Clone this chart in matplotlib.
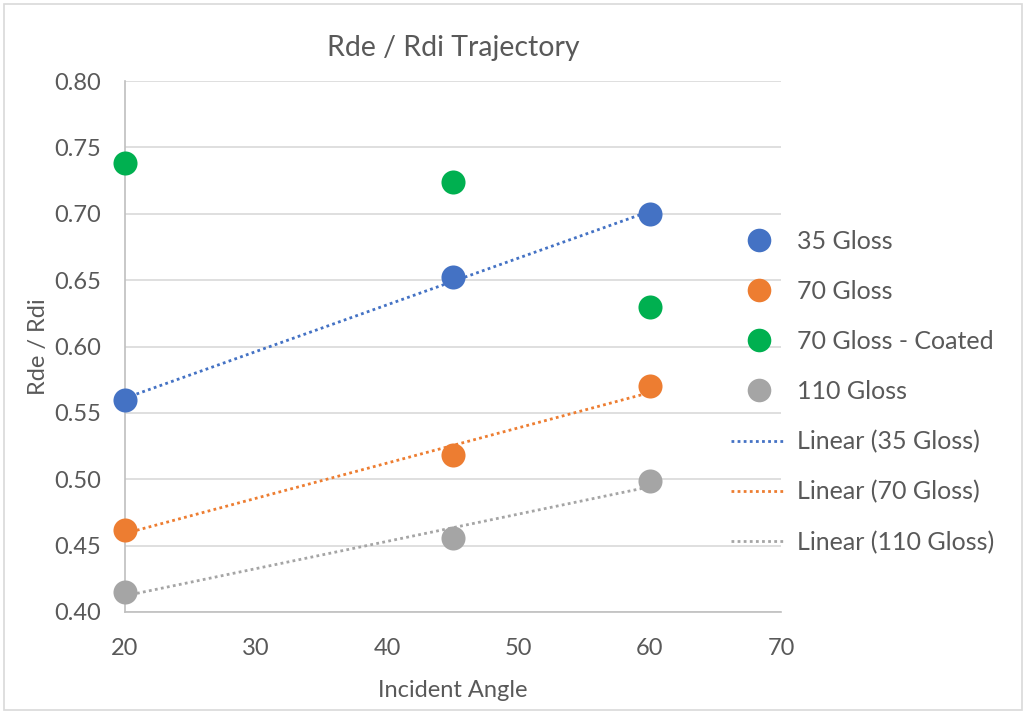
import numpy as np
import matplotlib
matplotlib.use("Agg")
import matplotlib.pyplot as plt
from matplotlib.lines import Line2D
from matplotlib.patches import Rectangle

plt.rcParams['font.family'] = ['Lato', 'DejaVu Sans']

angles = [20, 45, 60]
series_names = ["35 Gloss", "70 Gloss", "70 Gloss - Coated", "110 Gloss"]
gloss35 = [0.560, 0.652, 0.700]
gloss70 = [0.462, 0.518, 0.570]
gloss70_coated = [0.738, 0.724, 0.630]
gloss110 = [0.415, 0.456, 0.499]
colors = ["#4472C4", "#ED7D31", "#00B050", "#A5A5A5"]
trend_series = [0, 1, 3]

xticks = [20, 30, 40, 50, 60, 70]
yticks = [0.40, 0.45, 0.50, 0.55, 0.60, 0.65, 0.70, 0.75, 0.80]

txt = "#595959"
fig = plt.figure(figsize=(10.26, 7.13), dpi=100)
fig.patches.append(Rectangle((0.004, 0.004), 0.992, 0.99, transform=fig.transFigure,
                             fill=False, edgecolor="#D9D9D9", linewidth=1.2))
ax = fig.add_axes([125/1026, 1-612/713, (781-125)/1026, (612-81)/713])

data = [gloss35, gloss70, gloss70_coated, gloss110]
handles = []
for name, vals, c in zip(series_names, data, colors):
    ax.scatter(angles, vals, s=300, color=c, zorder=4, clip_on=False, linewidths=0)
    handles.append(Line2D([], [], linestyle='none', marker='o', markersize=17,
                          markerfacecolor=c, markeredgewidth=0, label=name))

for i in trend_series:
    m, b = np.polyfit(angles, data[i], 1)
    xs = np.array([min(angles), max(angles)])
    ax.plot(xs, m*xs + b, linestyle=(0, (1, 1.2)), color=colors[i], linewidth=2, zorder=3)
    handles.append(Line2D([], [], linestyle=(0, (1, 1.2)), color=colors[i], linewidth=2,
                          label=f"Linear ({series_names[i]})"))

ax.set_xlim(20, 70)
ax.set_ylim(0.40, 0.80)
ax.set_xticks(xticks)
ax.set_yticks(yticks)
ax.set_yticklabels([f"{v:.2f}" for v in yticks])
ax.grid(axis='y', color="#D9D9D9", linewidth=1.2)
ax.set_axisbelow(True)
for s in ['top', 'right']:
    ax.spines[s].set_visible(False)
for s in ['left', 'bottom']:
    ax.spines[s].set_color("#BFBFBF")
    ax.spines[s].set_linewidth(1.2)
ax.tick_params(axis='both', length=0, colors=txt, labelsize=17)
ax.tick_params(axis='x', pad=19)
ax.tick_params(axis='y', pad=17)
ax.set_xlabel("Incident Angle", color=txt, fontsize=17, labelpad=15)
ax.set_ylabel("Rde / Rdi", color=txt, fontsize=17, labelpad=4)
ax.set_title("Rde / Rdi Trajectory", color=txt, fontsize=20.5, pad=18)

leg = fig.legend(handles=handles, loc='upper left', bbox_to_anchor=(721/1026, 1-220/713),
                 frameon=False, fontsize=18, labelspacing=1.08, handlelength=2.2,
                 handletextpad=0.45, labelcolor=txt, borderaxespad=0)

fig.savefig("out.png", dpi=100)
